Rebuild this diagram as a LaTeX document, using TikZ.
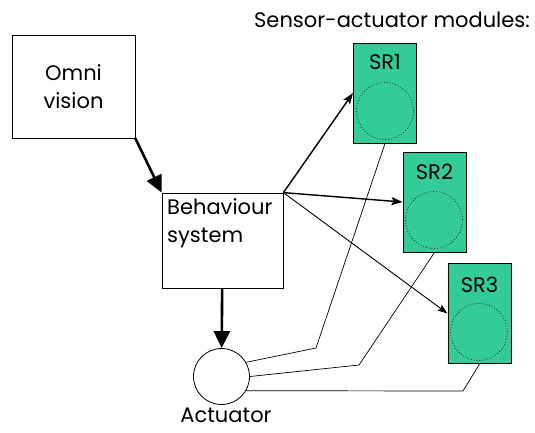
\documentclass[tikz,border=0pt]{standalone}
\usepackage{fontspec}
\setmainfont{Poppins}
\usetikzlibrary{arrows.meta}
\definecolor{modgreen}{RGB}{51,204,153}
\begin{document}
\begin{tikzpicture}[x=1pt,y=-1pt,
    font=\fontsize{21}{28}\selectfont,
    box/.style={draw, rectangle, inner sep=0pt, line width=0.8pt},
    module/.style={draw, fill=modgreen, rectangle, inner sep=0pt, line width=1pt,
      minimum width=63pt, minimum height=100pt},
    eye/.style={draw=black!85, circle, dotted, line width=0.8pt, inner sep=0pt,
      minimum size=57pt},
    bigarrow/.style={line width=2.6pt, -{Triangle[length=17pt, width=16pt]}},
    midarrow/.style={line width=1.4pt, -{Stealth[length=11pt, width=8pt, inset=2pt]}},
    thinarrow/.style={line width=0.9pt, -{Stealth[length=10pt, width=7pt, inset=2pt]}},
    wire/.style={line width=0.7pt}]

    \useasboundingbox (0,0) rectangle (535,432);

	\node at (392,20) (title) {Sensor-actuator modules:};

	\node[box, minimum width=123pt, minimum height=103pt, align=center] (omni) at (73.5,86.5) {Omni\\vision};
	\node[box, minimum width=121pt, minimum height=95pt] (behav) at (222.5,240.5) {};
	\node[anchor=north west, align=left, inner sep=0pt] (behavtext) at (167,198) {Behaviour\\system};

	\node[draw, circle, line width=0.8pt, minimum size=56pt, inner sep=0pt] (act) at (221.5,376.5) {};
	\node[inner sep=0pt] (acttext) at (226,415) {Actuator};

	\node[module] (sr1) at (385,93) {};
	\node[module] (sr2) at (434.5,202) {};
	\node[module] (sr3) at (479.5,313.5) {};
	\node (sr1lbl) at (385,62) {SR1};
	\node (sr2lbl) at (434.5,172) {SR2};
	\node (sr3lbl) at (479.5,285) {SR3};
	\node[eye] (eye1) at (385,111) {};
	\node[eye] (eye2) at (434,220) {};
	\node[eye] (eye3) at (479,332) {};

	\draw[bigarrow] (omni.south east) -- (behav.north west);
	\draw[bigarrow] (behav) -- (act);
	\draw[midarrow] (behav.north east) -- (sr1.west);
	\draw[midarrow] (behav.north east) -- (sr2.west);
	\draw[thinarrow] (behav.north east) -- (sr3.west);

	\coordinate (bend1) at (316,348);
	\coordinate (bend2) at (359,365);
	\coordinate (bend3) at (463,391);
	\draw[wire] (act.30) -- (bend1) -- (sr1.south);
	\draw[wire] (act.east) -- (bend2) -- (sr2.south);
	\draw[wire] (act.-30) -- (bend3) -- (sr3.south);
    \end{tikzpicture}
\end{document}
